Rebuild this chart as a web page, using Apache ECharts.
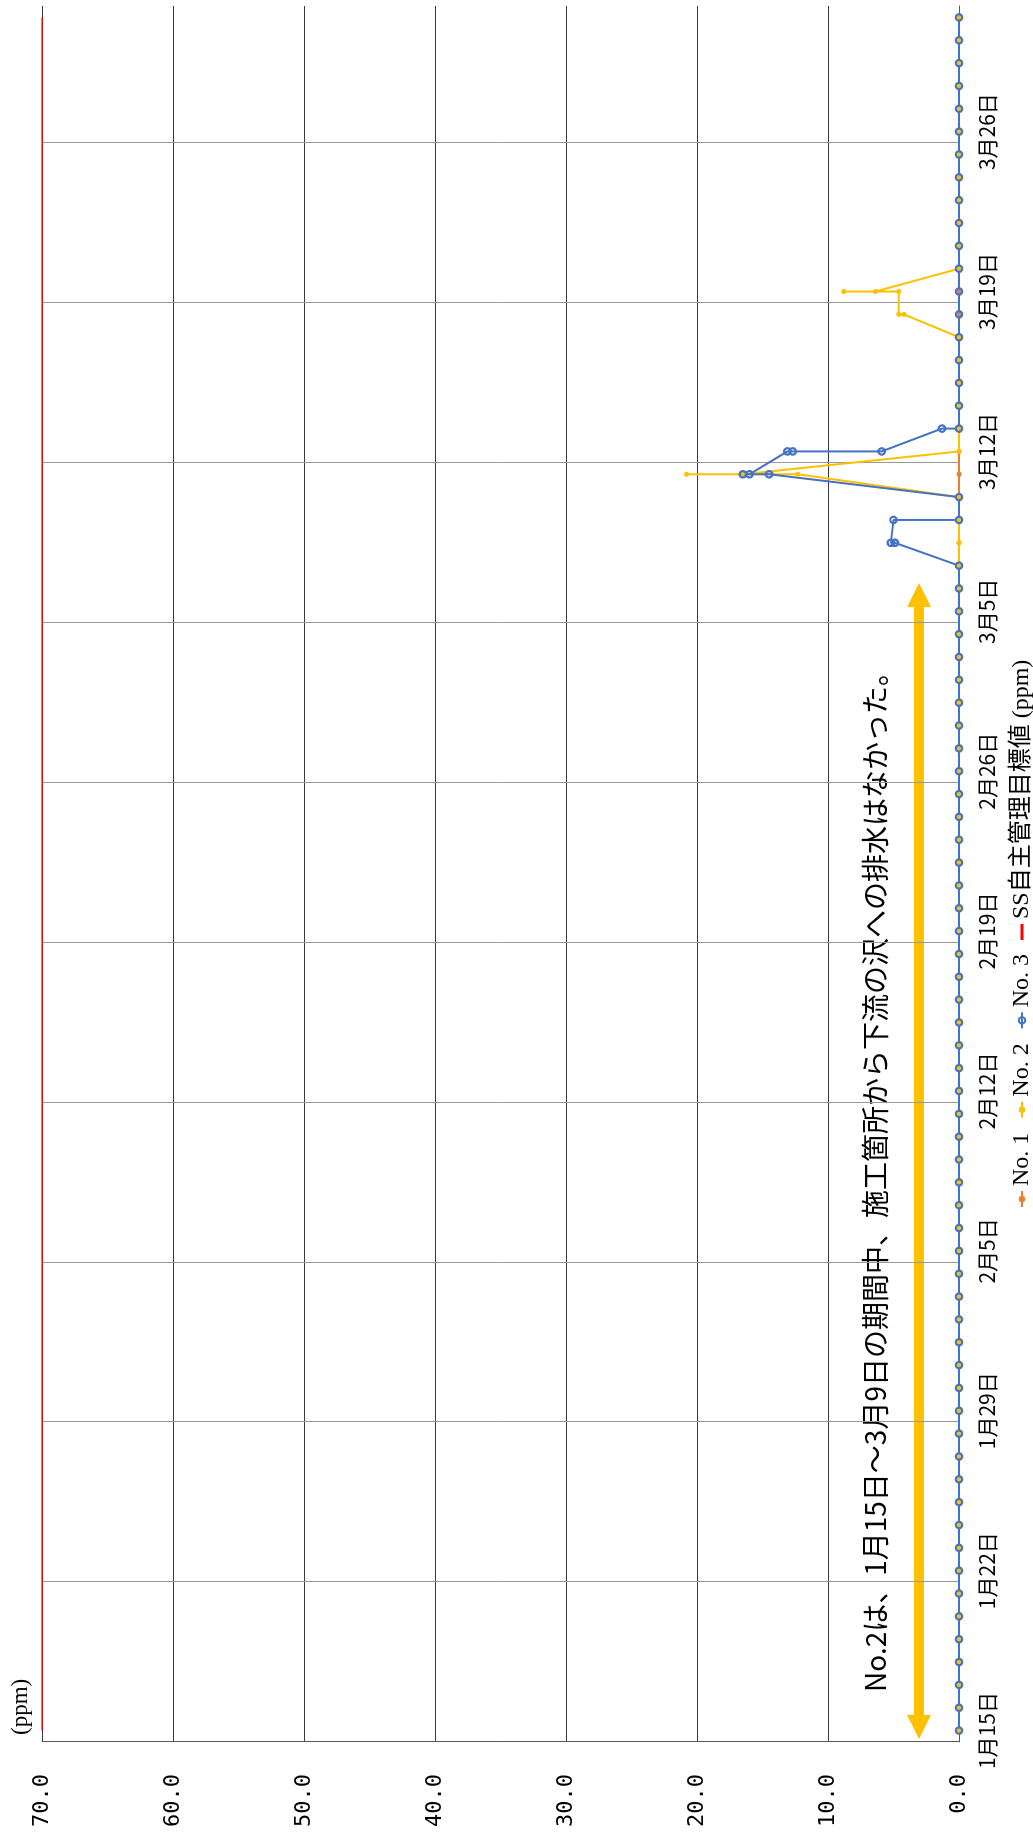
<!DOCTYPE html>
<html>
<head>
<meta charset="utf-8">
<script src="https://cdn.jsdelivr.net/npm/echarts@6/dist/echarts.min.js"></script>
<style>
  html, body { margin: 0; padding: 0; background: #ffffff; overflow: hidden; }
  body { width: 1033px; height: 1843px; position: relative; }
  /* The chart is laid out landscape and turned a quarter turn counter-clockwise onto the page */
  #chart {
    position: absolute; left: 0; top: 0;
    width: 1843px; height: 1033px;
    transform-origin: 0 0;
    transform: translate(0px, 1843px) rotate(-90deg);
  }
</style>
</head>
<body>
<div id="chart"></div>
<script>
// Daily sampling dates, 1/15 - 3/31
const dates = [
  '1月15日','1月16日','1月17日','1月18日','1月19日','1月20日','1月21日',
  '1月22日','1月23日','1月24日','1月25日','1月26日','1月27日','1月28日',
  '1月29日','1月30日','1月31日','2月1日','2月2日','2月3日','2月4日',
  '2月5日','2月6日','2月7日','2月8日','2月9日','2月10日','2月11日',
  '2月12日','2月13日','2月14日','2月15日','2月16日','2月17日','2月18日',
  '2月19日','2月20日','2月21日','2月22日','2月23日','2月24日','2月25日',
  '2月26日','2月27日','2月28日','3月1日','3月2日','3月3日','3月4日',
  '3月5日','3月6日','3月7日','3月8日','3月9日','3月10日','3月11日',
  '3月12日','3月13日','3月14日','3月15日','3月16日','3月17日','3月18日',
  '3月19日','3月20日','3月21日','3月22日','3月23日','3月24日','3月25日',
  '3月26日','3月27日','3月28日','3月29日','3月30日','3月31日'
];

// SS readings (ppm) per day; a nested list holds several readings taken on the same day, in order
const no1 = [
  0,0,0,0,0,0,0,  0,0,0,0,0,0,0,  0,0,0,0,0,0,0,  0,0,0,0,0,0,0,
  0,0,0,0,0,0,0,  0,0,0,0,0,0,0,  0,0,0,0,0,0,0,  0,0,0,0,0,0,0,
  0,0,0,0,0,0,0,  0,0,0,0,0,0,0,  0,0,0,0,0,0
];
const no2 = [
  0,0,0,0,0,0,0,  0,0,0,0,0,0,0,  0,0,0,0,0,0,0,  0,0,0,0,0,0,0,
  0,0,0,0,0,0,0,  0,0,0,0,0,0,0,  0,0,0,0,0,0,0,  0,0,0,0,0,0,[12.3,20.8,16.5],
  0,0,0,0,0,0,[4.2,4.6],  [4.6,8.8,6.4],0,0,0,0,0,0,  0,0,0,0,0,0
];
const no3 = [
  0,0,0,0,0,0,0,  0,0,0,0,0,0,0,  0,0,0,0,0,0,0,  0,0,0,0,0,0,0,
  0,0,0,0,0,0,0,  0,0,0,0,0,0,0,  0,0,0,0,0,0,0,  0,0,0,[4.9,5.2],[5.0,0],0,[14.5,16.5,16.0],
  [13.1,12.7,5.9],[1.3,0],0,0,0,0,0,  0,0,0,0,0,0,0,  0,0,0,0,0,0
];
// Self-imposed SS management target (ppm)
const ssTarget = [
  70,70,70,70,70,70,70,  70,70,70,70,70,70,70,  70,70,70,70,70,70,70,  70,70,70,70,70,70,70,
  70,70,70,70,70,70,70,  70,70,70,70,70,70,70,  70,70,70,70,70,70,70,  70,70,70,70,70,70,70,
  70,70,70,70,70,70,70,  70,70,70,70,70,70,70,  70,70,70,70,70,70
];

const seriesNames = ['No. 1', 'No. 2', 'No. 3', 'SS自主管理目標値 (ppm)'];
const valueTicks = { min: 0, max: 70, interval: 10 };
const noteText = 'No.2は、1月15日～3月9日の期間中、施工箇所から下流の沢への排水はなかった。';

// [dayIndex, value] pairs, one per reading
function toPoints(vals) {
  const pts = [];
  vals.forEach((v, i) => {
    (Array.isArray(v) ? v : [v]).forEach(y => pts.push([i, y]));
  });
  return pts;
}

const chart = echarts.init(document.getElementById('chart'), null, { renderer: 'canvas' });

const sansJP = '"Noto Sans CJK JP", "Noto Sans", sans-serif';
const serifJP = '"Liberation Serif", "DejaVu Serif", "Noto Sans CJK JP", serif';

// Double-headed arrow marking the no-discharge period
const ax1 = 104, ax2 = 1260, ay = 919, shaft = 5, head = 12, headLen = 24;
const arrowPts = [
  [ax1, ay], [ax1 + headLen, ay - head], [ax1 + headLen, ay - shaft],
  [ax2 - headLen, ay - shaft], [ax2 - headLen, ay - head], [ax2, ay],
  [ax2 - headLen, ay + head], [ax2 - headLen, ay + shaft],
  [ax1 + headLen, ay + shaft], [ax1 + headLen, ay + head]
];

// weekly grid lines; the closing boundary at the far end stays hidden
const weekLineColors = [];
for (let i = 0; i < 11; i++) weekLineColors.push('#9a9a9a');
weekLineColors.push('rgba(0,0,0,0)');

chart.setOption({
  animation: false,
  backgroundColor: '#ffffff',
  grid: { left: 101, right: 6, top: 42, bottom: 74, containLabel: false },
  legend: {
    data: [
      { name: seriesNames[0] },
      { name: seriesNames[1] },
      { name: seriesNames[2] },
      { name: seriesNames[3], icon: 'path://M0,0 L16,0 L16,3 L0,3 Z' }
    ],
    left: 630, top: 1005,
    itemWidth: 16, itemHeight: 8, itemGap: 14,
    textStyle: { fontFamily: serifJP, fontSize: 24, color: '#000' }
  },
  xAxis: {
    type: 'category',
    data: dates,
    boundaryGap: true,
    axisLine: { show: true, lineStyle: { color: '#595959', width: 1 } },
    axisTick: { show: false, interval: 6 },
    axisLabel: { interval: 6, margin: 18, fontFamily: sansJP, fontSize: 21, color: '#000' },
    splitLine: {
      show: true, interval: 6, showMaxLine: false,
      lineStyle: { color: weekLineColors, width: 1 }
    }
  },
  yAxis: {
    type: 'value',
    min: valueTicks.min, max: valueTicks.max, interval: valueTicks.interval,
    axisLine: { show: true, lineStyle: { color: '#595959', width: 1 } },
    axisTick: { show: false },
    axisLabel: {
      margin: 32, fontFamily: '"DejaVu Sans Mono", monospace', fontSize: 22, color: '#000',
      formatter: v => v.toFixed(1)
    },
    splitLine: { show: true, lineStyle: { color: '#3a3a3a', width: 1 } }
  },
  series: [
    {
      name: seriesNames[0], type: 'line', data: toPoints(no1),
      symbol: 'circle', symbolSize: 5, showAllSymbol: true,
      itemStyle: { color: '#ED7D31' },
      lineStyle: { color: '#ED7D31', width: 2 }
    },
    {
      name: seriesNames[1], type: 'line', data: toPoints(no2),
      symbol: 'circle', symbolSize: 5, showAllSymbol: true,
      itemStyle: { color: '#FFC000' },
      lineStyle: { color: '#FFC000', width: 2 }
    },
    {
      name: seriesNames[2], type: 'line', data: toPoints(no3),
      symbol: 'circle', symbolSize: 6.5, showAllSymbol: true,
      itemStyle: { color: 'rgba(255,255,255,0)', borderColor: '#4472C4', borderWidth: 2.2 },
      lineStyle: { color: '#4472C4', width: 2 }
    },
    {
      name: seriesNames[3], type: 'line', data: ssTarget,
      symbol: 'none',
      itemStyle: { color: '#FF0000' },
      lineStyle: { color: '#FF0000', width: 1.6 }
    }
  ],
  graphic: [
    {
      type: 'text', left: 108, top: 9,
      style: { text: '(ppm)', font: '23px ' + serifJP, fill: '#000' }
    },
    {
      type: 'polygon',
      shape: { points: arrowPts },
      style: { fill: '#FFC000' }
    },
    {
      type: 'text', x: 151, y: 875,
      style: { text: noteText, font: '28px ' + sansJP, fill: '#000', textVerticalAlign: 'middle', verticalAlign: 'middle' }
    }
  ]
});
</script>
</body>
</html>
